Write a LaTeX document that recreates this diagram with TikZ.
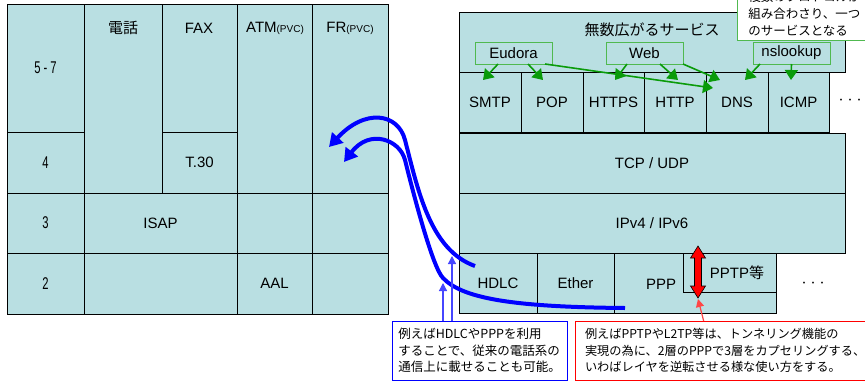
\documentclass[tikz,border=0pt]{standalone}
\usepackage{fontspec}
\usepackage{graphicx}
\setmainfont{Liberation Sans}
\newfontfamily\jp{Noto Sans CJK JP}
\usetikzlibrary{arrows.meta}
\definecolor{cellfill}{RGB}{185,223,226}
\definecolor{gline}{RGB}{80,185,80}
\definecolor{garrowc}{RGB}{10,155,10}
\definecolor{tblue}{RGB}{70,70,255}
\definecolor{tred}{RGB}{255,70,70}
% one box of a protocol stack: name, x1, y1, x2, y2, text
\newcommand{\layer}[6]{\node[cell, minimum width={(#4-#2)*1pt}, minimum height={(#5-#3)*1pt}] (#1) at ({(#2+#4)/2},{(#3+#5)/2}) {#6};}
\newcommand{\rowlbl}[1]{\scalebox{0.66}[1]{\fontsize{17}{19}\selectfont #1}}

\begin{document}
\begin{tikzpicture}[x=1pt, y=-1pt,
    every node/.style={font=\fontsize{15}{18}\selectfont, inner sep=0pt, outer sep=0pt},
    cell/.style={draw, fill=cellfill, line width=0.8pt},
    gbox/.style={draw=gline, fill=cellfill, line width=1pt, minimum width=77pt, minimum height=22pt},
    garrow/.style={-{Triangle[width=13pt,length=10pt]}, draw=garrowc, line width=1.6pt},
    bcurve/.style={-{Triangle[width=15pt,length=13pt]}, draw=blue, line width=4pt},
    note/.style={draw, line width=1pt, fill=white, align=left, anchor=north west, inner xsep=6pt,
        font=\jp\fontsize{12.5}{16.7}\selectfont}]
\useasboundingbox (0,0) rectangle (865,381);

% circuit switched side
\layer{l57}{7}{4}{84}{132}{\rowlbl{5 - 7}}
\layer{l4}{7}{132}{84}{193}{\rowlbl{4}}
\layer{l3}{7}{193}{84}{253}{\rowlbl{3}}
\layer{l2}{7}{253}{84}{314}{\rowlbl{2}}
\layer{tel}{84}{4}{162}{193}{}
\layer{fax}{162}{4}{237}{132}{}
\layer{t30}{162}{132}{237}{193}{T.30}
\layer{atm}{237}{4}{312}{193}{}
\layer{fr}{312}{4}{388}{193}{}
\layer{isap}{84}{193}{237}{253}{ISAP}
\layer{atm3}{237}{193}{312}{253}{}
\layer{fr3}{312}{193}{388}{253}{}
\layer{tel2}{84}{253}{237}{314}{}
\layer{aal}{237}{253}{312}{314}{AAL}
\layer{fr2}{312}{253}{388}{314}{}
\node (telt) at (123,28) {\jp 電話};
\node (faxt) at (199,28) {FAX};
\node (atmt) at (275,28) {ATM{\fontsize{10}{12}\selectfont(PVC)}};
\node (frt) at (350,28) {FR{\fontsize{10}{12}\selectfont(PVC)}};

% internet side
\layer{svc}{459}{12}{845}{72}{}
\node (svct) at (652,30) {\jp 無数広がるサービス};
\layer{smtp}{459}{72}{521}{132}{SMTP}
\layer{pop}{521}{72}{583}{132}{POP}
\layer{https}{583}{72}{644}{132}{HTTPS}
\layer{http}{644}{72}{706}{132}{HTTP}
\layer{dns}{706}{72}{768}{132}{DNS}
\layer{icmp}{768}{72}{829}{132}{ICMP}
\node (dots1) at (850,101) {\jp\fontsize{9}{10}\selectfont ・・・};
\layer{tcp}{459}{133}{845}{193}{TCP / UDP}
\layer{ip}{459}{193}{845}{253}{IPv4 / IPv6}
\layer{hdlc}{459}{253}{537}{313}{HDLC}
\layer{ether}{537}{253}{614}{313}{Ether}
\layer{ppp}{614}{253}{776}{313}{}
\layer{pptp}{683}{253}{776}{292}{}
\node (pppt) at (661,284) {PPP};
\node (pptpt) at (737,273) {PPTP{\jp 等}};
\node (dots2) at (813,284) {\jp\fontsize{9}{10}\selectfont ・・・};

% applications
\node[gbox] (eudora) at (513.5,53) {Eudora};
\node[gbox] (web) at (644.5,53) {Web};
\node[gbox] (nslookup) at (791.5,53) {nslookup};
\draw[garrow] ([xshift=-15.5pt]eudora.south) -- ([xshift=-7pt,yshift=-8pt]smtp.north);
\draw[garrow] ([xshift=14.5pt]eudora.south) -- ([xshift=-9pt,yshift=-8pt]pop.north);
\draw[garrow] ([xshift=31.5pt]eudora.south) -- ([xshift=-24pt,yshift=-16pt]dns.north);
\draw[garrow] ([xshift=-17.5pt]web.south) -- ([xshift=1.5pt,yshift=-8pt]https.north);
\draw[garrow] ([xshift=15.5pt]web.south) -- ([xshift=3pt,yshift=-8pt]http.north);
\draw[garrow] ([xshift=38.5pt]web.south) -- ([xshift=-17pt,yshift=-8pt]dns.north);
\draw[garrow] ([xshift=-31.5pt]nslookup.south) -- ([xshift=8pt,yshift=-8pt]dns.north);
\draw[garrow] (nslookup.south) -- ([xshift=-7.5pt,yshift=-8pt]icmp.north);

\node[note, draw=gline, anchor=south west, minimum width=135pt, inner ysep=4pt] (gnote) at (737,40)
    {複数のプロトコルが\\組み合わさり、一つ\\のサービスとなる};

% carrying internet links over telephone links
\coordinate (a0) at (475,266);
\coordinate (a1) at (329,147);
\coordinate (b0) at (625,308);
\coordinate (b1) at (344,162);
\draw[bcurve] (a0) .. controls (430,250) and (418,190) .. (405,140)
    .. controls (398,113) and (365,108) .. (a1);
\draw[bcurve] (b0) .. controls (510,307) and (462,298) .. (443,278)
    .. controls (433,268) and (415,200) .. (405,160)
    .. controls (400,140) and (370,128) .. (b1);

% PPTP tunnel
\draw[fill=red, line width=0.6pt] (698,246) -- (705.5,258) -- (701.5,258) -- (701.5,286) -- (705.5,286)
    -- (698,298) -- (690.5,286) -- (694.5,286) -- (694.5,258) -- (690.5,258) -- cycle;

% notes
\node[note, draw=blue, minimum width=175pt, minimum height=59pt] (bnote) at (392,321)
    {例えばHDLCやPPPを利用\\することで、従来の電話系の\\通信上に載せることも可能。};
\node[note, draw=red, minimum width=290pt, minimum height=59pt, inner xsep=10pt,
    font=\jp\fontsize{12.2}{16.7}\selectfont] (rnote) at (575,321)
    {例えばPPTPやL2TP等は、トンネリング機能の\\実現の為に、2層のPPPで3層をカプセリングする、\\いわばレイヤを逆転させる様な使い方をする。};
\coordinate (c1) at (443,283);
\coordinate (c2) at (452,256);
\coordinate (c3) at (698,299);
\draw[tblue, line width=1.2pt, -{Triangle[width=8pt,length=8pt]}] ([xshift=-36.5pt]bnote.north) -- (c1);
\draw[tblue, line width=1.2pt, -{Triangle[width=8pt,length=8pt]}] ([xshift=-27.5pt]bnote.north) -- (c2);
\draw[tred, line width=1.2pt, -{Triangle[width=8pt,length=8pt]}] ([xshift=-21.5pt]rnote.north) -- (c3);
\end{tikzpicture}
\end{document}
